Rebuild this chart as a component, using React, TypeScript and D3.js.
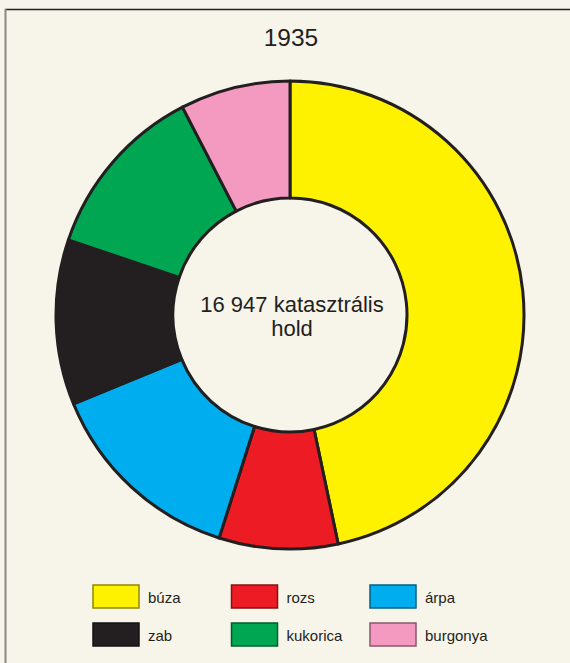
import React from "react";
import * as d3 from "d3";

const categories = ["búza", "rozs", "árpa", "zab", "kukorica", "burgonya"];
const values = [46.7, 8.2, 13.9, 11.4, 12.2, 7.6];
const colors = ["#fff200", "#ed1c24", "#00aeef", "#231f20", "#00a651", "#f49ac1"];
const title = "1935";
const centerLines = ["16 947 katasztrális", "hold"];
const legendOrder = [
  ["búza", "rozs", "árpa"],
  ["zab", "kukorica", "burgonya"],
];

const W = 570;
const H = 663;
const cx = 290;
const cy = 315;
const outerR = 234;
const innerR = 117;

export default function App() {
  const data = categories.map((c, i) => ({ c, v: values[i], col: colors[i] }));
  const pie = d3.pie<any>().value((d) => d.v).sort(null);
  const arc = d3.arc<any>().innerRadius(innerR).outerRadius(outerR);
  const arcs = pie(data);
  const colorOf = d3.scaleOrdinal<string, string>().domain(categories).range(colors);
  const colX = d3.scalePoint<number>().domain([0, 1, 2]).range([93, 370]);
  const rowY = d3.scalePoint<number>().domain([0, 1]).range([585, 623]);
  const font = "'Liberation Sans', Arial, sans-serif";

  return (
    <svg
      width={W}
      height={H}
      style={{ position: "absolute", left: 0, top: 0, background: "#f7f4ea" }}
    >
      <rect x={0} y={0} width={W} height={H} fill="#f7f4ea" />
      <line x1={5} y1={9.5} x2={W} y2={9.5} stroke="#231f20" strokeWidth={1.5} />
      <line x1={5.5} y1={9} x2={5.5} y2={H} stroke="#8a8784" strokeWidth={2} />
      <text x={291} y={46} textAnchor="middle" fontFamily={font} fontSize={24.5} fill="#231f20">
        {title}
      </text>
      <g transform={`translate(${cx},${cy})`}>
        {arcs.map((a, i) => (
          <path
            key={i}
            d={arc(a) as string}
            fill={a.data.col}
            stroke="#231f20"
            strokeWidth={3}
            strokeLinejoin="round"
          />
        ))}
      </g>
      {centerLines.map((t, i) => (
        <text
          key={i}
          x={292}
          y={312 + i * 24}
          textAnchor="middle"
          fontFamily={font}
          fontSize={22}
          fill="#231f20"
        >
          {t}
        </text>
      ))}
      {legendOrder.map((row, r) =>
        row.map((c, k) => {
          const col = colorOf(c);
          const x = colX(k) as number;
          const y = rowY(r) as number;
          return (
            <g key={c}>
              <rect
                x={x}
                y={y}
                width={46}
                height={23}
                fill={col}
                stroke={d3.color(col)!.darker(1.6).formatHex()}
                strokeWidth={1.5}
              />
              <text x={x + 55} y={y + 18} fontFamily={font} fontSize={15} fill="#231f20">
                {c}
              </text>
            </g>
          );
        })
      )}
    </svg>
  );
}
